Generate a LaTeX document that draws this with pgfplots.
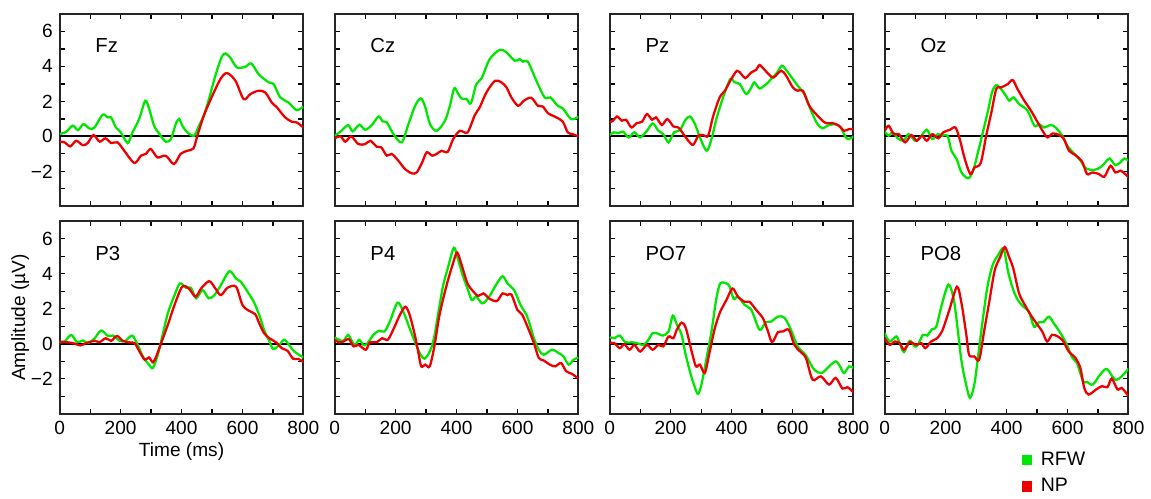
\documentclass[border=0pt]{standalone}
\usepackage{fontspec}
\setmainfont{Liberation Sans}
\usepackage{pgfplots}
\pgfplotsset{compat=1.18}
\usepgfplotslibrary{groupplots}

\definecolor{rfw}{RGB}{0,230,0}
\definecolor{np}{RGB}{238,0,0}

\pgfplotsset{
  erp/.style={
    width=122.5pt, height=96.75pt, scale only axis,
    xmin=0, xmax=800, ymin=-4, ymax=7,
    xtick={0,200,400,600,800}, xticklabels={0,200,400,600,800},
    minor xtick={100,300,500,700},
    ytick={-2,0,2,4,6}, yticklabels={−2,0,2,4,6},
    minor ytick={-3,-1,1,3,5},
    tick align=inside,
    major tick length=2.5pt, minor tick length=2.5pt,
    every tick/.style={black, line width=0.6pt},
    axis line style={black!85, line width=1pt},
    tick label style={font=\fontsize{9.6}{11}\selectfont},
    label style={font=\fontsize{9.6}{11}\selectfont},
  },
  rfwline/.style={rfw, line width=1.15pt, smooth, no markers},
  npline/.style={np, line width=1.15pt, smooth, no markers},
  zeroline/.style={black, line width=1pt, forget plot, no markers},
}
\newcommand{\chan}[1]{\node[anchor=west, font=\fontsize{10.2}{12}\selectfont] at (rel axis cs:0.118,0.835) {#1};}

\begin{document}
\begin{tikzpicture}
\begin{groupplot}[
  group style={group size=4 by 2, horizontal sep=15.75pt, vertical sep=7.5pt,
    xticklabels at=edge bottom, yticklabels at=edge left},
  erp,
]
% ---- Fz
\nextgroupplot
\coordinate (TL) at (rel axis cs:0,1);
\addplot[zeroline] coordinates {(0,0) (800,0)};
\addplot[rfwline] coordinates {
(0,0.13)(22,0.27)(43,0.62)(60,0.36)(78,0.7)(98,0.45)(114,0.5)(141,1.24)(158,1.08)
(169,1.08)(185,0.5)(201,0.23)(223,-0.38)(239,0.23)(261,1.0)(281,2.04)(294,1.56)
(310,0.6)(326,0.17)(348,-0.3)(365,-0.15)(381,0.7)(392,1.0)(403,0.6)(419,0.23)
(441,0.04)(457,0.6)(473,1.18)(490,2.13)(511,3.47)(531,4.5)(544,4.74)(560,4.5)
(582,3.94)(609,3.98)(629,4.17)(653,3.56)(686,3.09)(702,3.0)(724,2.23)(751,1.94)
(778,1.5)(800,1.71)};
\addplot[npline] coordinates {
(0,-0.3)(16,-0.34)(35,-0.57)(54,-0.25)(76,-0.5)(92,-0.38)(111,0.08)(131,-0.3)
(150,-0.11)(169,-0.38)(190,-0.34)(212,-0.82)(245,-1.52)(267,-1.1)(283,-1.0)
(299,-0.72)(321,-1.2)(348,-1.1)(375,-1.58)(397,-1.0)(419,-0.82)(439,-0.69)
(452,0.04)(473,1.18)(501,2.32)(528,3.28)(549,3.62)(577,3.18)(604,2.13)(626,2.42)
(653,2.61)(675,2.51)(696,1.94)(713,1.66)(740,1.09)(762,0.84)(778,0.8)(800,0.51)};
\chan{Fz}
% ---- Cz
\nextgroupplot
\addplot[zeroline] coordinates {(0,0) (800,0)};
\addplot[rfwline] coordinates {
(0,0.04)(19,0.27)(44,0.65)(59,0.29)(81,0.67)(100,0.38)(122,0.65)(144,1.14)
(157,0.86)(171,0.8)(193,0.13)(220,-0.34)(242,0.7)(264,1.75)(282,2.17)(296,1.75)
(313,0.7)(335,0.32)(362,0.9)(378,1.75)(392,2.74)(403,2.51)(416,2.17)(433,2.13)
(447,1.89)(465,2.99)(482,3.31)(509,4.42)(542,4.95)(564,4.8)(591,4.32)(607,4.42)
(618,4.27)(634,4.27)(662,3.18)(689,2.23)(708,2.23)(732,1.75)(749,1.6)(776,0.99)
(800,1.12)};
\addplot[npline] coordinates {
(0,-0.11)(19,0)(35,-0.3)(54,0)(78,-0.44)(100,-0.44)(117,-0.25)(138,-0.59)
(153,-0.63)(171,-1.1)(187,-1.0)(209,-1.39)(231,-1.87)(253,-2.11)(269,-2.06)
(287,-1.49)(302,-0.91)(320,-1.1)(335,-1.0)(351,-0.82)(371,-0.88)(389,-0.15)
(411,0.32)(436,0.23)(460,1.22)(476,1.66)(498,2.51)(526,3.18)(547,3.09)(564,2.8)
(580,2.23)(602,1.75)(621,2.04)(645,2.21)(667,1.75)(683,1.71)(700,1.33)(727,1.09)
(749,0.84)(765,0.23)(781,0.13)(800,0)};
\chan{Cz}
% ---- Pz
\nextgroupplot
\addplot[zeroline] coordinates {(0,0) (800,0)};
\addplot[rfwline] coordinates {
(0,0.08)(13,0.23)(29,0.19)(44,0.27)(62,-0.06)(81,0.23)(100,-0.06)(122,0.32)
(141,0.74)(160,0.32)(176,0.13)(193,-0.34)(211,0.23)(231,0.36)(247,0.9)(263,1.14)
(280,0.7)(296,-0.06)(318,-0.82)(334,-0.15)(350,0.99)(372,2.23)(396,3.28)(410,3.09)
(427,2.99)(448,2.42)(465,2.8)(475,3.09)(492,2.74)(514,2.99)(530,3.28)(550,3.66)
(565,4.04)(581,3.75)(601,3.28)(617,2.9)(639,2.42)(661,1.47)(682,0.7)(699,0.46)
(715,0.61)(740,0.7)(758,0.51)(775,-0.06)(786,-0.15)(800,0)};
\addplot[npline] coordinates {
(0,0.8)(11,0.9)(24,1.14)(40,0.9)(54,0.95)(71,0.51)(89,0.76)(106,0.84)(122,1.28)
(139,0.95)(152,1.09)(171,0.65)(189,0.99)(209,0.57)(225,0.51)(242,0.13)(258,-0.25)
(274,-0.48)(291,0.04)(307,0.08)(323,0.04)(340,1.18)(361,2.23)(378,2.61)(399,3.28)
(418,3.75)(432,3.56)(445,3.33)(465,3.66)(481,3.81)(492,4.08)(508,3.81)(525,3.5)
(538,3.37)(563,3.75)(579,3.47)(601,2.8)(617,2.61)(634,2.61)(655,1.75)(677,1.28)
(693,0.99)(709,0.76)(731,0.76)(753,0.61)(769,0.32)(786,0.42)(800,0.42)};
\chan{Pz}
% ---- Oz
\nextgroupplot
\addplot[zeroline] coordinates {(0,0) (800,0)};
\addplot[rfwline] coordinates {
(0,0.27)(13,0.04)(26,0.23)(43,-0.11)(62,-0.25)(78,0.13)(100,-0.25)(116,-0.06)
(138,0.38)(156,-0.15)(174,0.13)(189,0.04)(206,0.04)(219,-0.82)(236,-1.3)
(252,-2.06)(274,-2.4)(290,-1.96)(306,-0.91)(322,0.23)(339,1.47)(352,2.51)
(366,2.93)(382,2.7)(398,2.32)(409,2.04)(423,2.23)(441,1.85)(469,1.47)(491,0.61)
(507,0.7)(523,0.51)(545,0.65)(561,0.51)(583,0.04)(599,-0.53)(621,-0.97)
(643,-1.39)(659,-1.81)(686,-1.92)(708,-1.77)(724,-1.49)(738,-1.26)(757,-1.64)
(773,-1.49)(786,-1.26)(800,-1.39)};
\addplot[npline] coordinates {
(0,0.32)(13,0.61)(29,0.13)(46,0.13)(67,-0.34)(87,0.08)(105,-0.25)(122,0.04)
(138,-0.25)(156,0.13)(176,-0.11)(192,0.23)(214,0.38)(232,0.51)(246,-0.15)
(263,-1.3)(281,-2.15)(295,-1.77)(315,-1.52)(333,0.04)(350,1.37)(366,2.7)(382,2.8)
(404,2.99)(420,3.22)(436,2.7)(458,2.04)(480,1.47)(502,0.8)(518,0.32)(534,-0.06)
(551,0.17)(572,0.08)(588,-0.15)(605,-0.82)(626,-1.07)(648,-1.45)(664,-2.15)
(681,-2.06)(703,-2.15)(721,-2.3)(741,-1.68)(757,-2.06)(773,-1.96)(786,-2.1)
(800,-2.34)};
\chan{Oz}
% ---- P3
\nextgroupplot[xlabel={Time (ms)}, ylabel={Amplitude (µV)},
  xlabel style={at={(rel axis cs:0.5,-0.195)}, anchor=center},
  ylabel style={at={(rel axis cs:-0.162,0.5)}, anchor=center}]
\addplot[zeroline] coordinates {(0,0) (800,0)};
\addplot[rfwline] coordinates {
(0,0.09)(16,0.13)(38,0.51)(57,0.09)(76,0.19)(93,0.04)(115,0.32)(136,0.76)
(158,0.45)(175,0.47)(197,0.17)(216,0.17)(238,0.47)(256,-0.06)(273,-0.72)
(293,-1.19)(306,-1.38)(322,-0.63)(338,0.51)(355,1.74)(377,2.78)(395,3.45)
(415,3.2)(431,3.2)(448,2.6)(469,3.07)(489,2.6)(508,2.78)(529,3.35)(557,4.15)
(579,3.73)(595,3.54)(617,2.97)(638,2.37)(655,1.65)(671,0.8)(688,0.17)(701,-0.3)
(721,-0.06)(737,0.23)(753,-0.06)(770,-0.44)(800,-0.78)};
\addplot[npline] coordinates {
(0,0.13)(22,0.09)(44,0.04)(68,-0.09)(87,0.04)(115,0.17)(131,0.09)(151,0.32)
(169,0.17)(188,0.45)(207,0.17)(229,0.08)(246,0.04)(262,-0.44)(279,-0.91)
(293,-0.78)(306,-1.06)(317,-0.72)(333,0.04)(355,1.08)(377,2.22)(402,3.26)
(424,3.16)(446,2.69)(464,3.16)(491,3.58)(511,3.16)(529,2.78)(551,3.2)(579,3.26)
(600,2.22)(622,1.88)(642,1.69)(655,1.17)(671,0.61)(688,0.32)(710,0.09)
(729,-0.25)(748,-0.4)(766,-0.85)(784,-0.87)(800,-1.04)};
\chan{P3}
% ---- P4
\nextgroupplot
\addplot[zeroline] coordinates {(0,0) (800,0)};
\addplot[rfwline] coordinates {
(0,0.36)(15,0.23)(29,0.17)(44,0.51)(56,0.17)(67,-0.09)(80,0.23)(94,-0.06)
(105,-0.02)(127,0.51)(145,0.74)(163,0.7)(181,1.27)(206,2.35)(225,1.84)(246,0.89)
(265,0.04)(282,-0.63)(295,-0.85)(312,-0.44)(326,0.32)(339,1.65)(355,3.26)
(371,4.3)(391,5.49)(404,4.87)(420,3.92)(434,3.26)(450,2.5)(464,2.69)(485,2.31)
(507,2.69)(529,3.35)(551,3.86)(567,3.45)(589,3.07)(610,2.22)(632,1.55)(654,0.32)
(670,-0.34)(686,-0.63)(713,-0.34)(735,-0.53)(751,-0.72)(768,-1.19)(784,-0.91)
(800,-0.78)};
\addplot[npline] coordinates {
(0,0.23)(13,0.09)(29,0.13)(46,0.28)(62,-0.15)(78,-0.06)(102,-0.34)(116,0.09)
(138,0.09)(156,0.32)(174,0.23)(192,0.8)(214,1.65)(232,2.12)(246,1.65)(263,0.51)
(274,-0.44)(284,-1.29)(297,-1.19)(312,-1.29)(328,-0.06)(344,1.65)(366,3.26)
(388,4.58)(402,5.21)(417,4.49)(436,3.45)(456,2.97)(471,2.73)(488,2.88)(507,2.59)
(532,2.44)(551,2.88)(567,2.78)(580,2.82)(600,1.93)(616,1.65)(637,0.8)(654,0.04)
(670,-0.81)(686,-0.95)(706,-1.19)(724,-1.29)(743,-1.1)(760,-1.57)(779,-1.72)
(800,-1.99)};
\chan{P4}
% ---- PO7
\nextgroupplot
\addplot[zeroline] coordinates {(0,0) (800,0)};
\addplot[rfwline] coordinates {
(0,0.38)(15,0.32)(33,0.47)(51,0.09)(73,0.09)(89,0.04)(111,-0.06)(127,0.23)
(141,0.61)(160,0.57)(174,0.47)(193,0.7)(207,1.61)(220,1.12)(236,0.51)(247,-0.44)
(263,-1.57)(280,-2.52)(290,-2.86)(301,-2.33)(318,-0.81)(334,0.7)(350,2.59)
(363,3.45)(383,3.45)(394,3.26)(407,2.56)(421,2.69)(443,2.22)(465,1.93)(492,0.8)
(512,1.23)(530,1.27)(552,1.55)(573,1.5)(595,0.8)(617,-0.15)(644,-0.66)
(671,-1.48)(696,-1.67)(720,-1.29)(742,-1.0)(756,-1.29)(769,-1.67)(786,-1.29)
(800,-1.38)};
\addplot[npline] coordinates {
(0,0.04)(15,0.04)(33,-0.25)(48,-0.02)(65,-0.34)(81,-0.06)(100,-0.44)(122,-0.06)
(141,-0.34)(160,-0.06)(176,-0.15)(193,0.42)(209,0.32)(220,0.8)(236,1.21)
(250,0.89)(269,-0.44)(283,-1.29)(296,-1.19)(312,-1.67)(326,-0.63)(345,0.89)
(363,1.84)(383,2.5)(403,3.16)(421,2.69)(443,2.4)(459,2.4)(481,1.93)(503,1.46)
(519,0.74)(533,0.09)(552,0.66)(568,0.7)(588,0.8)(606,-0.06)(625,-0.44)
(644,-0.81)(666,-2.05)(693,-1.86)(720,-2.33)(742,-1.95)(764,-2.56)(780,-2.48)
(800,-2.77)};
\chan{PO7}
% ---- PO8
\nextgroupplot[
  legend style={at={(rel axis cs:0.56,-0.175)}, anchor=north west,
    draw=none, fill=none, inner sep=0pt, row sep=1pt,
    font=\fontsize{9.8}{11}\selectfont,
    /tikz/every odd column/.append style={column sep=2.5pt}},
  legend cell align=left,
  legend image code/.code={\fill[draw=none] (0pt,-2.6pt) rectangle (5.2pt,2.6pt);},
]
\coordinate (BR) at (rel axis cs:1,0);
\addplot[zeroline] coordinates {(0,0) (800,0)};
\addplot[rfwline] coordinates {
(0,0.61)(16,0.13)(38,0.42)(49,0.04)(63,-0.47)(82,0.17)(98,-0.15)(109,-0.06)
(125,0.51)(139,0.47)(155,0.83)(169,0.98)(187,2.22)(209,3.39)(226,2.59)(239,0.89)
(252,-1.0)(267,-2.33)(280,-3.09)(294,-2.33)(307,-0.63)(321,1.27)(337,3.26)
(354,4.49)(372,5.06)(390,5.44)(405,4.11)(422,3.07)(437,2.5)(455,2.12)(473,1.84)
(490,0.98)(506,1.23)(520,1.23)(539,1.55)(555,1.17)(577,0.61)(598,-0.06)
(615,-0.78)(631,-1.1)(651,-2.14)(664,-2.18)(683,-2.33)(707,-1.76)(729,-1.44)
(756,-2.05)(778,-1.86)(800,-1.42)};
\addplot[npline] coordinates {
(0,0.32)(16,-0.06)(33,0.13)(49,0.04)(63,-0.34)(82,0.09)(103,-0.06)(120,0.04)
(133,-0.25)(152,0.13)(172,0.32)(190,0.8)(212,1.93)(237,3.26)(252,2.31)(267,0.61)
(277,-0.63)(294,-0.72)(310,-0.91)(326,0.7)(343,2.4)(361,4.2)(379,4.96)(394,5.53)
(408,4.96)(422,4.3)(441,2.88)(459,2.25)(479,1.65)(498,1.17)(517,0.7)(533,0.13)
(549,0.51)(568,0.42)(585,0.17)(604,-0.44)(626,-0.81)(642,-1.38)(655,-2.52)
(669,-2.9)(694,-2.61)(713,-2.42)(731,-2.48)(745,-1.99)(764,-2.61)(778,-2.52)
(800,-2.99)};
\legend{RFW,NP}
\chan{PO8}
\end{groupplot}
\path ([shift={(-30pt,7pt)}]TL) rectangle ([shift={(8.25pt,-37.5pt)}]BR);
\end{tikzpicture}
\end{document}
